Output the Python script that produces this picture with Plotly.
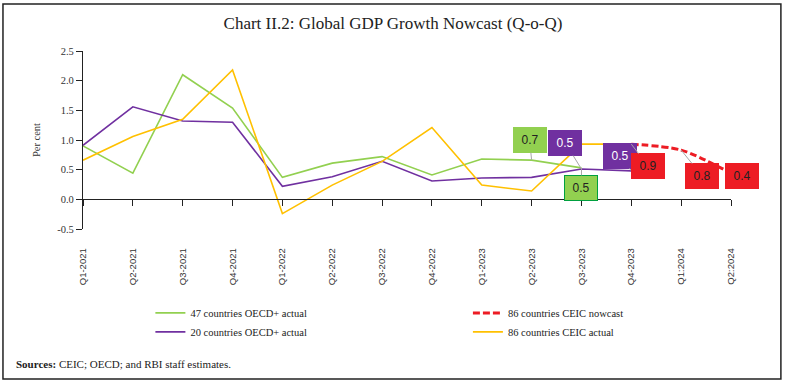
import plotly.graph_objects as go

quarters = ["Q1-2021", "Q2-2021", "Q3-2021", "Q4-2021", "Q1-2022", "Q2-2022", "Q3-2022",
            "Q4-2022", "Q1-2023", "Q2-2023", "Q3-2023", "Q4-2023", "Q1:2024", "Q2:2024"]
oecd47_actual = [0.90, 0.44, 2.10, 1.54, 0.37, 0.61, 0.72, 0.41, 0.68, 0.66, 0.53, None, None, None]
oecd20_actual = [0.91, 1.56, 1.32, 1.30, 0.22, 0.38, 0.64, 0.31, 0.36, 0.37, 0.51, 0.48, None, None]
ceic86_actual = [0.66, 1.06, 1.35, 2.18, -0.24, 0.24, 0.64, 1.21, 0.24, 0.14, 0.93, 0.93, None, None]
ceic86_nowcast = [None, None, None, None, None, None, None, None, None, None, None, 0.93, 0.83, 0.44]
yticks = [-0.5, 0.0, 0.5, 1.0, 1.5, 2.0, 2.5]
ytick_text = [f"{v:.1f}" for v in yticks]

GREEN = "#92D050"
PURPLE = "#7030A0"
YELLOW = "#FFC000"
RED = "#ED1C24"
SERIF = "Liberation Serif, Times New Roman, serif"
SANS = "Liberation Sans, Arial, sans-serif"

fig = go.Figure()
fig.add_trace(go.Scatter(x=quarters, y=oecd47_actual, mode="lines", name="47 countries OECD+ actual",
                         line=dict(color=GREEN, width=1.6), legend="legend"))
fig.add_trace(go.Scatter(x=quarters, y=oecd20_actual, mode="lines", name="20 countries OECD+ actual",
                         line=dict(color=PURPLE, width=1.6), legend="legend"))
fig.add_trace(go.Scatter(x=quarters, y=ceic86_nowcast, mode="lines", name="86 countries CEIC nowcast",
                         line=dict(color=RED, width=3, dash="7px,3px", shape="spline", smoothing=0.8),
                         legend="legend2"))
fig.add_trace(go.Scatter(x=quarters, y=ceic86_actual, mode="lines", name="86 countries CEIC actual",
                         line=dict(color=YELLOW, width=1.6), legend="legend2"))

# data labels
labels = [
    (quarters[9], oecd47_actual[9], GREEN, "#222222", -2, -20, None),
    (quarters[10], oecd20_actual[10], PURPLE, "#FFFFFF", -16, -26, None),
    (quarters[10], oecd47_actual[10], GREEN, "#222222", 0, 20, "#00A040"),
    (quarters[11], oecd20_actual[11], PURPLE, "#FFFFFF", -11, -15, None),
    (quarters[11], ceic86_nowcast[11], RED, "#222222", 17, 22, None),
    (quarters[12], ceic86_nowcast[12], RED, "#222222", 21, 26, None),
    (quarters[13], ceic86_nowcast[13], RED, "#222222", 11, 3, None),
]
for x, y, bg, fc, ax, ay, border in labels:
    fig.add_annotation(x=x, y=y, text=f"{y:.1f}", showarrow=True, arrowhead=0, arrowwidth=1,
                       arrowcolor="#A6A6A6", standoff=0, ax=ax, ay=ay, bgcolor=bg,
                       bordercolor=border if border else bg, borderwidth=1,
                       width=30, height=22, font=dict(family=SANS, size=12, color=fc))

fig.add_annotation(xref="paper", yref="paper", x=-0.106, y=-0.758, xanchor="left", yanchor="middle",
                   text="<b>Sources:</b> CEIC; OECD; and RBI staff estimates.", showarrow=False,
                   font=dict(family=SERIF, size=11, color="#222222"))

# outer frame
fig.add_shape(type="rect", xref="paper", yref="paper", x0=-0.1235, x1=1.077, y0=-0.843, y1=1.264,
              line=dict(color="#222222", width=1.5))

fig.update_layout(
    width=786, height=381,
    margin=dict(l=83, r=55, t=51, b=152),
    paper_bgcolor="white", plot_bgcolor="white",
    title=dict(text="Chart II.2: Global GDP Growth Nowcast (Q-o-Q)", x=0.5, xref="container",
               xanchor="center", y=0.94, yanchor="middle",
               font=dict(family=SERIF, size=17, color="#222222")),
    showlegend=True,
    legend=dict(x=0.104, y=-0.39, xanchor="left", yanchor="top", orientation="v",
                font=dict(family=SERIF, size=10.5, color="#222222"), tracegroupgap=0,
                itemwidth=30, bgcolor="rgba(0,0,0,0)"),
    legend2=dict(x=0.594, y=-0.39, xanchor="left", yanchor="top", orientation="v",
                 font=dict(family=SERIF, size=10.5, color="#222222"), tracegroupgap=0,
                 itemwidth=30, bgcolor="rgba(0,0,0,0)"),
    xaxis=dict(type="category", categoryorder="array", categoryarray=quarters,
               range=[0, len(quarters) - 1], anchor="free", position=1 / 6,
               showline=True, linecolor="#222222", linewidth=1.2,
               ticks="outside", ticklen=6, tickcolor="#222222", tickwidth=1,
               tickangle=-90, ticklabelstandoff=38, showgrid=False, zeroline=False,
               tickfont=dict(family=SANS, size=9.5, color="#333333")),
    yaxis=dict(range=[-0.5, 2.5], tickvals=yticks, ticktext=ytick_text,
               showline=True, linecolor="#222222", linewidth=1.2,
               ticks="outside", ticklen=6, tickcolor="#222222", showgrid=False, zeroline=False,
               tickfont=dict(family=SERIF, size=10.5, color="#333333"),
               title=dict(text="Per cent", standoff=14, font=dict(family=SERIF, size=10.5, color="#333333"))),
)

fig.write_html("out.html", config={"displayModeBar": False},
               post_script="document.body.style.margin='0';document.body.style.overflow='hidden';")
